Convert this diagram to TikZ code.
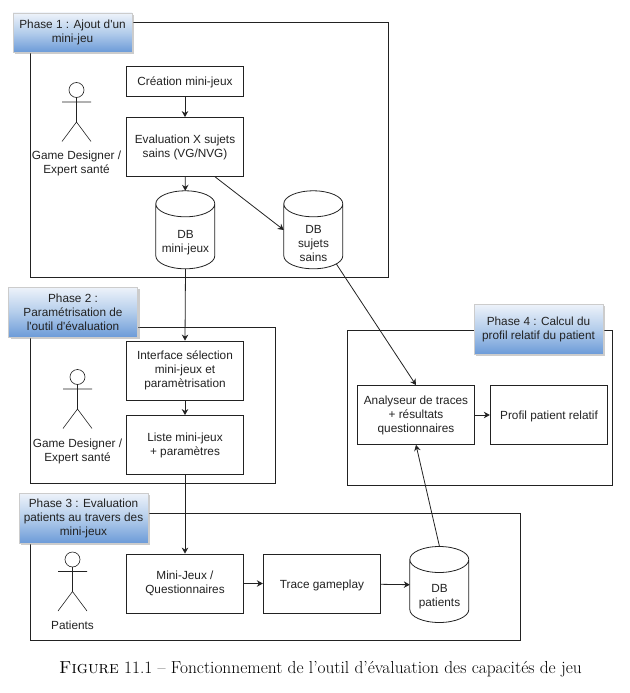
\documentclass[tikz,border=0pt]{standalone}
\usepackage{fontspec}
\usetikzlibrary{arrows.meta,shadows}
\newfontfamily\labfont{Liberation Sans}
\definecolor{inkc}{HTML}{222222}
\definecolor{ptop}{HTML}{EEF3FA}
\definecolor{pmid}{HTML}{B4CDEB}
\definecolor{pbot}{HTML}{6C9BD8}
\tikzset{
  x=1pt,y=-1pt,
  every node/.style={font=\labfont\fontsize{11.8}{14}\selectfont,text=inkc,inner sep=0pt,align=center},
  frame/.style={draw=inkc,line width=0.8pt,anchor=north west,fill=none},
  proc/.style={draw=inkc,line width=0.8pt,fill=white,minimum width=117.5pt,execute at begin node={\rule{0pt}{11.5pt}}},
  dbbox/.style={minimum width=59pt,minimum height=78pt},
  dbline/.style={draw=inkc,line width=0.8pt},
  phase/.style={draw=black!20,line width=0.6pt,top color=ptop,bottom color=pbot,middle color=pmid,
     drop shadow={shadow xshift=2pt,shadow yshift=-2pt,fill=black!40,opacity=0.5}},
  conn/.style={draw=inkc,line width=0.8pt,-{Stealth[length=6pt,width=6.5pt]}},
  limb/.style={draw=inkc,line width=0.6pt},
}
\newcommand{\actor}[3]{%
  \coordinate (#3h) at (#1,#2);
  \draw[limb] (#1,#2) circle (7.5);
  \draw[limb] (#1,#2+7.5) -- (#1,#2+32) (#1-14.5,#2+12) -- (#1+14.5,#2+12)
    (#1-14.5,#2+51.5) -- (#1,#2+32) -- (#1+14.5,#2+51.5);
}
% #1 node name, #2 straight side length
\newcommand{\dbshape}[2]{%
  \draw[dbline] (#1.north west) ++(0,13) -- ++(0,#2)
    arc[start angle=180,end angle=360,x radius=29.5pt,y radius=13pt] -- ++(0,-#2)
    arc[start angle=0,end angle=180,x radius=29.5pt,y radius=13pt]
    arc[start angle=180,end angle=360,x radius=29.5pt,y radius=13pt];
}
\begin{document}
\begin{tikzpicture}
\useasboundingbox (0,0) rectangle (629,693);
% frames
\node[frame,minimum width=358.5pt,minimum height=254.5pt] (f1) at (29.5,22.5) {};
\node[frame,minimum width=245.5pt,minimum height=156.5pt] (f2) at (29.5,326.5) {};
\node[frame,minimum width=490.5pt,minimum height=127pt] (f3) at (29.5,513) {};
\node[frame,minimum width=265.5pt,minimum height=155.5pt] (f4) at (346.5,329.5) {};
% phase titles
\node[phase,minimum width=119pt,minimum height=39pt] (p1) at (72.5,32.5) {Phase 1 : Ajout d'un\\mini-jeu};
\node[phase,minimum width=129pt,minimum height=50pt] (p2) at (73,312) {Phase 2 :\\Paramétrisation de\\l'outil d'évaluation};
\node[phase,minimum width=129pt,minimum height=50pt] (p3) at (83.5,518) {Phase 3 : Evaluation\\patients au travers des\\mini-jeux};
\node[phase,minimum width=129pt,minimum height=50pt,execute at begin node={\rule{0pt}{11.5pt}}] (p4) at (538.5,329) {Phase 4 : Calcul du\\profil relatif du patient};
% actors
\actor{76.5}{90}{a}
\node (la) at (76.5,163.5) {Game Designer /\\Expert santé};
\actor{77.5}{377}{b}
\node (lb) at (77.5,451) {Game Designer /\\Expert santé};
\actor{72.5}{559.5}{c}
\node (lc) at (72.5,625) {Patients};
% processes
\node[proc,minimum height=29.5pt] (crea) at (185,81.3) {Création mini-jeux};
\node[proc,minimum height=59pt] (eval) at (185,147) {Evaluation X sujets\\sains (VG/NVG)};
\node[proc,minimum height=59pt] (iface) at (185,370.5) {Interface sélection\\mini-jeux et\\paramètrisation};
\node[proc,minimum height=59pt] (liste) at (185,445) {Liste mini-jeux\\+ paramètres};
\node[proc,minimum height=59pt] (mini) at (185,583.5) {Mini-Jeux /\\Questionnaires};
\node[proc,minimum height=59pt] (trace) at (322,583.5) {Trace gameplay};
\node[proc,minimum height=59pt] (ana) at (416,415) {Analyseur de traces\\+ résultats\\questionnaires};
\node[proc,minimum height=59pt] (prof) at (549,415) {Profil patient relatif};
% databases
\node[dbbox,label={[yshift=-13pt,name=d1t]center:DB\\mini-jeux}] (d1) at (185.5,230) {};
\node[dbbox,label={[yshift=-13pt,name=d2t]center:DB\\sujets\\sains}] (d2) at (313.5,230) {};
\node[dbbox,minimum height=76pt,label={[yshift=-12pt,name=d3t]center:DB\\patients}] (d3) at (439.5,584.7) {};
\dbshape{d1}{52}
\dbshape{d2}{52}
\dbshape{d3}{50}
% caption
\node[font=\fontsize{17.4}{19}\selectfont,text=black] (cap) at (320.5,669) {\textsc{Figure} 11.1 -- Fonctionnement de l'outil d'évaluation des capacités de jeu};
% connectors
\draw[conn] (crea) -- (eval);
\draw[conn] (eval) -- (d1);
\draw[conn] ([xshift=-29pt]eval.south east) -- (d2.west);
\draw[conn] (d1.south) -- (iface.north);
\draw[conn] (iface) -- (liste);
\draw[conn] (liste) -- (mini);
\draw[conn] (mini) -- (trace);
\draw[conn] (trace) -- (d3.west);
\draw[conn] (d3.north) -- (ana.south);
\draw[conn] ([xshift=23pt,yshift=5pt]d2.south) -- (ana.north);
\draw[conn] (ana) -- (prof);
\end{tikzpicture}
\end{document}
